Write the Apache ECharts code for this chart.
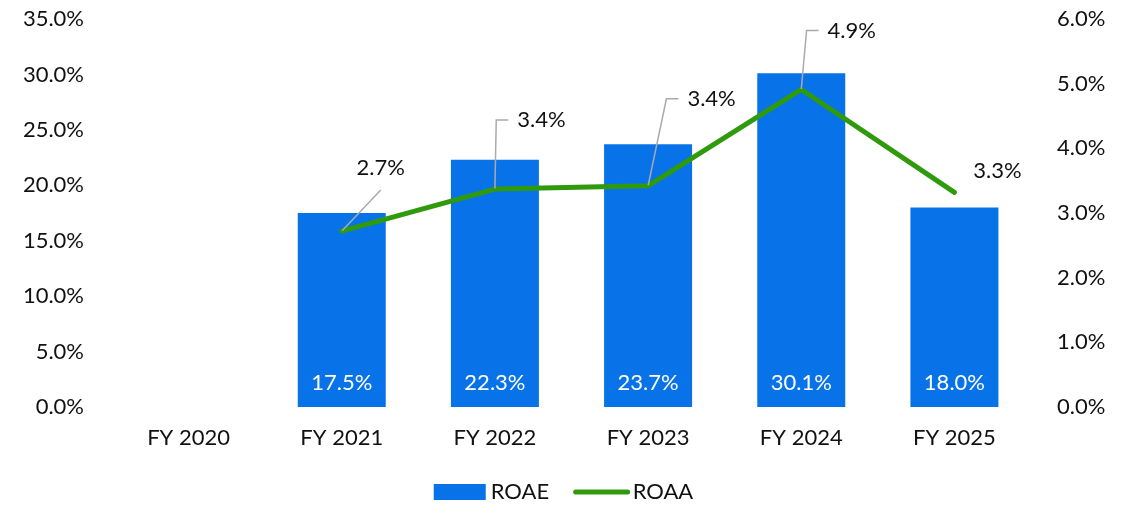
<!DOCTYPE html>
<html>
<head>
<meta charset="utf-8">
<script src="https://cdn.jsdelivr.net/npm/echarts@6/dist/echarts.min.js"></script>
<style>
    html, body { margin: 0; padding: 0; background: #fff; }
    #chart { width: 1127px; height: 510px; }
</style>
</head>
<body>
<div id="chart"></div>
<script>
const categories = ['FY 2020', 'FY 2021', 'FY 2022', 'FY 2023', 'FY 2024', 'FY 2025'];
const roae = [null, 17.5, 22.3, 23.7, 30.1, 18.0];
const roaa = [null, 2.72, 3.37, 3.42, 4.91, 3.32];
const roaaLabels = ['', '2.7%', '3.4%', '3.4%', '4.9%', '3.3%'];
// label shift for each ROAA point (dx, dy) and leader style
const roaaShift = [[0, 0], [39, -63.5], [62, -69], [79, -87], [66, -59], [43, -21]];
const roaaLeader = ['none', 'straight', 'elbow', 'elbow', 'elbow', 'none'];

const font = 'Lato, "Open Sans", sans-serif';
const fs = 22;
const chart = echarts.init(document.getElementById('chart'));

// padding shapes the label box so the leader line attaches on the wanted side
const leaderPadding = { none: 0, straight: [20, 0, 3, 0], elbow: [0, 40, 0, 9] };

const roaaData = roaa.map((v, i) => ({
    value: v,
    label: { padding: leaderPadding[roaaLeader[i]], backgroundColor: 'rgba(0,0,0,0)' },
    labelLine: { show: roaaLeader[i] !== 'none', length2: roaaLeader[i] === 'elbow' ? 12 : 0 }
}));

const option = {
    animation: false,
    textStyle: { fontFamily: font },
    grid: { left: 112, right: 96, top: 19, bottom: 103 },
    legend: {
        bottom: 2,
        left: 'center',
        itemWidth: 52,
        itemHeight: 16,
        itemGap: 24,
        textStyle: { fontSize: fs, color: '#111', fontFamily: font },
        data: [
            { name: 'ROAE', icon: 'rect' },
            { name: 'ROAA', itemStyle: { opacity: 0 }, lineStyle: { width: 5, cap: 'round' } }
        ]
    },
    xAxis: {
        type: 'category',
        data: categories,
        axisLine: { show: false },
        axisTick: { show: false },
        axisLabel: { margin: 20, fontSize: fs, color: '#111', fontFamily: font }
    },
    yAxis: [
        {
            type: 'value',
            min: 0, max: 35, interval: 5,
            splitLine: { show: false },
            axisLabel: { margin: 28, fontSize: fs, color: '#111', fontFamily: font,
                formatter: v => v.toFixed(1) + '%' }
        },
        {
            type: 'value',
            min: 0, max: 6, interval: 1,
            splitLine: { show: false },
            axisLabel: { margin: 26, fontSize: fs, color: '#111', fontFamily: font,
                formatter: v => v.toFixed(1) + '%' }
        }
    ],
    series: [
        {
            name: 'ROAE',
            type: 'bar',
            data: roae,
            barWidth: 88,
            itemStyle: { color: '#0873E8' },
            label: {
                show: true,
                position: 'insideBottom',
                distance: 13,
                color: '#fff',
                fontSize: fs,
                fontFamily: font,
                formatter: p => p.value.toFixed(1) + '%'
            }
        },
        {
            name: 'ROAA',
            type: 'line',
            yAxisIndex: 1,
            data: roaaData,
            showSymbol: true,
            symbol: 'circle',
            symbolSize: 1,
            itemStyle: { color: '#2E9A0C' },
            lineStyle: { width: 5, color: '#2E9A0C', cap: 'round', join: 'round' },
            label: {
                show: true,
                position: 'inside',
                color: '#111',
                fontSize: fs,
                fontFamily: font,
                formatter: p => roaaLabels[p.dataIndex]
            },
            labelLine: {
                show: true,
                lineStyle: { color: '#aaa', width: 1.5 }
            },
            labelLayout: p => ({
                dx: roaaShift[p.dataIndex][0],
                dy: roaaShift[p.dataIndex][1]
            })
        }
    ]
};
chart.setOption(option);
</script>
</body>
</html>
